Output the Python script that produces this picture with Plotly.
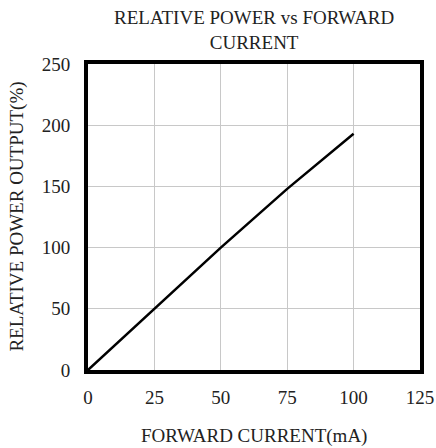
import plotly.graph_objects as go

# forward current (mA) vs relative power output (%)
current_ma = [0, 25, 50, 75, 100]
relative_power = [0, 50, 100, 148, 193]

x_ticks = [0, 25, 50, 75, 100, 125]
y_ticks = [0, 50, 100, 150, 200, 250]

FONT = "Liberation Serif"
TXT = dict(family=FONT, size=19, color="#222")

fig = go.Figure()
fig.add_trace(go.Scatter(
    x=current_ma, y=relative_power,
    mode="lines",
    line=dict(color="black", width=2.5),
    showlegend=False,
))

axis_common = dict(
    showline=True, linecolor="black", linewidth=4, mirror=True,
    showgrid=True, gridcolor="#c8c8c8", gridwidth=1,
    zeroline=False, automargin=False,
    ticks="outside", tickcolor="rgba(0,0,0,0)",
    tickfont=TXT,
)

fig.update_xaxes(range=[0, 125], tickvals=x_ticks, ticklen=7, **axis_common)
fig.update_yaxes(range=[0, 250], tickvals=y_ticks, ticklen=10, **axis_common)

# titles as annotations so they sit where the reference puts them
fig.add_annotation(text="RELATIVE POWER vs FORWARD<br>CURRENT", font=TXT,
                   xref="paper", yref="paper", x=0.5, y=1.03,
                   xanchor="center", yanchor="bottom", showarrow=False)
fig.add_annotation(text="FORWARD CURRENT(mA)", font=TXT,
                   xref="paper", yref="paper", x=0.5, y=-0.215,
                   xanchor="center", yanchor="middle", showarrow=False)
fig.add_annotation(text="RELATIVE POWER OUTPUT(%)", font=TXT, textangle=-90,
                   xref="paper", yref="paper", x=-0.215, y=0.5,
                   xanchor="center", yanchor="middle", showarrow=False)

fig.update_layout(
    width=436, height=448,
    margin=dict(l=88, r=16, t=64, b=78),
    paper_bgcolor="white", plot_bgcolor="white",
)

# drop the default 8px body margin so the figure fills the window exactly
fig.write_html("out.html",
               config={"displayModeBar": False},
               post_script="document.body.style.margin='0';document.body.style.overflow='hidden';")
